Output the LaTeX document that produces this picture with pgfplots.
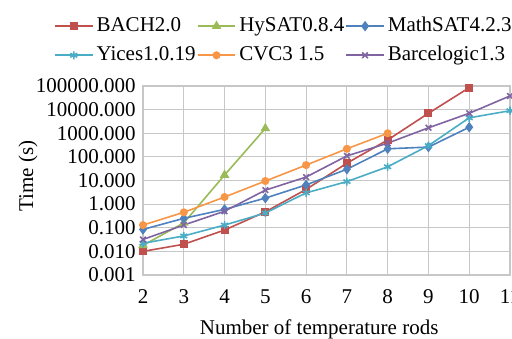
\documentclass[border=0pt]{standalone}
\usepackage{fontspec}
\setmainfont{Liberation Serif}
\usepackage{pgfplots}
\pgfplotsset{compat=1.18}
\definecolor{cbach}{HTML}{C0504D}
\definecolor{chysat}{HTML}{9BBB59}
\definecolor{cmath}{HTML}{4F81BD}
\definecolor{cyices}{HTML}{4BACC6}
\definecolor{ccvc}{HTML}{F79646}
\definecolor{cbarc}{HTML}{8064A2}
\begin{document}
\fontsize{10.5}{12.6}\selectfont
\begin{tikzpicture}
\begin{axis}[
  at={(71.5pt,31.5pt)}, anchor=south west,
  scale only axis, width=183.5pt, height=94.5pt,
  xmin=2, xmax=11, ymode=log, ymin=1e-3, ymax=1e5,
  xtick={2,3,4,5,6,7,8,9,10,11},
  xticklabels={2,3,4,5,6,7,8,9,10,11},
  ytick={1e-3,1e-2,1e-1,1,10,100,1000,10000,100000},
  yticklabels={0.001,0.010,0.100,1.000,10.000,100.000,1000.000,10000.000,100000.000},
  yminorticks=false,
  grid=major, grid style={black!22, line width=0.6pt},
  axis line style={black!22, line width=0.6pt},
  major tick length=0pt,
  tick label style={font=\fontsize{10.5}{12.6}\selectfont, text=black},
  xticklabel style={yshift=-3.5pt},
  label style={font=\fontsize{10.5}{12.6}\selectfont},
  xlabel={Number of temperature rods},
  xlabel style={at={(axis description cs:0.48,-0.285)}, anchor=center},
  ylabel={Time (s)},
  ylabel style={at={(axis description cs:-0.313,0.524)}, anchor=center},
  legend columns=3,
  legend cell align=left,
  legend style={draw=none, fill=none, inner sep=0pt,
    font=\fontsize{10.5}{12.6}\selectfont,
    nodes={inner sep=0.6pt},
    at={(axis description cs:-0.243,1.372)}, anchor=north west,
    /tikz/every even column/.append style={column sep=0pt},
    /tikz/every odd column/.append style={column sep=1pt},
    /tikz/row sep=4.5pt},
  legend image code/.code={\draw[mark repeat=2,mark phase=2] plot coordinates {(0cm,0cm)(0.33cm,0cm)(0.66cm,0cm)};},
  every axis plot/.append style={line width=0.8pt},
]
\addplot[cbach, mark=square*, mark size=1.6pt] coordinates {(2,0.01)(3,0.02)(4,0.08)(5,0.47)(6,4.2)(7,54)(8,520)(9,7000)(10,85000)};
\addlegendentry{BACH2.0}
\addplot[chysat, mark=triangle*, mark size=2pt] coordinates {(2,0.018)(3,0.16)(4,17)(5,1600)};
\addlegendentry{HySAT0.8.4}
\addplot[cmath, mark=diamond*, mark size=2pt] coordinates {(2,0.085)(3,0.25)(4,0.6)(5,1.8)(6,6.5)(7,30)(8,220)(9,260)(10,1800)};
\addlegendentry{MathSAT4.2.3}
\addplot[cyices, mark=asterisk, mark size=2pt] coordinates {(2,0.022)(3,0.045)(4,0.13)(5,0.42)(6,3)(7,9)(8,38)(9,300)(10,4500)(11,9000)};
\addlegendentry{Yices1.0.19}
\addplot[ccvc, mark=*, mark size=1.6pt] coordinates {(2,0.13)(3,0.45)(4,2)(5,9.5)(6,45)(7,220)(8,1000)};
\addlegendentry{CVC3 1.5}
\addplot[cbarc, mark=x, mark size=2pt] coordinates {(2,0.032)(3,0.13)(4,0.5)(5,3.9)(6,14)(7,110)(8,380)(9,1700)(10,7000)(11,38000)};
\addlegendentry{Barcelogic1.3}
\end{axis}
\pgfresetboundingbox
\path[use as bounding box] (0,0) rectangle (256pt,169pt);
\end{tikzpicture}
\end{document}
